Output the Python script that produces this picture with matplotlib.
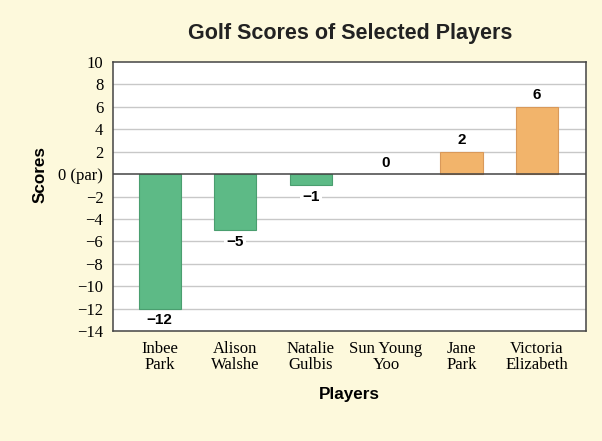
import matplotlib.pyplot as plt
import numpy as np

players = ['Inbee\nPark', 'Alison\nWalshe', 'Natalie\nGulbis', 'Sun Young\nYoo', 'Jane\nPark', 'Victoria\nElizabeth']
scores = [-12, -5, -1, 0, 2, 6]
yticks = [10, 8, 6, 4, 2, 0, -2, -4, -6, -8, -10, -12, -14]

bg = '#fdf9dc'
green = '#5dba86'
orange = '#f2b46b'
serif = ['Liberation Serif', 'DejaVu Serif']
sans = ['Liberation Sans', 'DejaVu Sans']

fig = plt.figure(figsize=(6.02, 4.41), dpi=100, facecolor=bg)
ax = fig.add_axes([0.1877, 0.2494, 0.7857, 0.61])
ax.set_facecolor('white')

x = np.arange(len(players))
colors = [green if s < 0 else orange for s in scores]
edges = ['#4a9e6f' if s < 0 else ('#d9995a' if s > 0 else 'none') for s in scores]
ax.bar(x, scores, width=0.56, color=colors, edgecolor=edges, linewidth=0.8, zorder=3)

ax.set_ylim(-14, 10)
ax.set_xlim(-0.62, 5.65)
ax.set_yticks(yticks)
ax.set_yticklabels(['0 (par)' if t == 0 else str(t).replace('-', '\u2212') for t in yticks],
                   family=serif, fontsize=12)
ax.set_xticks(x)
ax.set_xticklabels(players, family=serif, fontsize=12, linespacing=1.05)
ax.tick_params(length=0)
ax.tick_params(axis='y', pad=7)
ax.tick_params(axis='x', pad=7)

for t in yticks:
    if t not in (10, -14, 0):
        ax.axhline(t, color='#c8c8c8', lw=1, zorder=1)
ax.axhline(0, color='#444444', lw=1.1, zorder=4)
for s in ax.spines.values():
    s.set_color('#444444')
    s.set_linewidth(1.1)

for xi, s in zip(x, scores):
    lab = str(s).replace('-', '\u2212')
    if s < 0:
        ax.text(xi, s - 0.4, lab, ha='center', va='top', fontsize=11, fontweight='bold',
                family=sans, zorder=5,
                bbox=dict(boxstyle='square,pad=0.15', fc='white', ec='none'))
    else:
        ax.text(xi, s + 0.4, lab, ha='center', va='bottom', fontsize=11, fontweight='bold',
                family=sans, zorder=5)

ax.set_xlabel('Players', family=sans, fontsize=12.3, fontweight='bold', labelpad=10)
fig.text(40 / 602, 1 - 175 / 441, 'Scores', rotation=90, ha='center', va='center',
         family=sans, fontsize=12.3, fontweight='bold')
fig.text(0.581, 1 - 34 / 441, 'Golf Scores of Selected Players', ha='center', va='center',
         family=sans, fontsize=15.5, fontweight='bold', color='#222222')

fig.savefig('out.png', dpi=100, facecolor=bg)
